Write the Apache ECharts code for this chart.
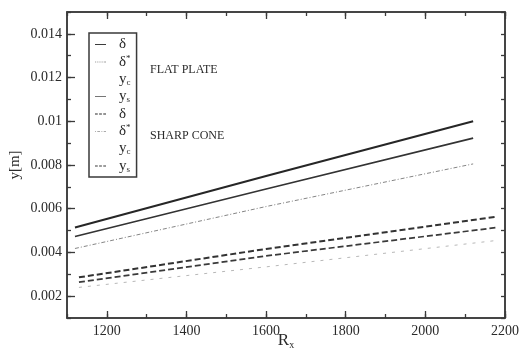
<!DOCTYPE html>
<html>
<head>
<meta charset="utf-8">
<script src="https://cdn.jsdelivr.net/npm/echarts@6/dist/echarts.min.js"></script>
<style>
  html, body { margin: 0; padding: 0; background: #fff; }
  #chart { width: 521px; height: 355px; }
</style>
</head>
<body>
<div id="chart"></div>
<script>
// Boundary-layer heights versus Reynolds number
const flatPlateRe = [1120, 1600, 2120];
const flatPlateDelta = [0.00514, 0.0075, 0.0100];
const flatPlateYs = [0.00473, 0.0069, 0.00923];
const flatPlateDeltaStar = [0.00418, 0.0061, 0.00805];

const sharpConeRe = [1130, 1600, 2180];
const sharpConeDelta = [0.00286, 0.00416, 0.00564];
const sharpConeYs = [0.00264, 0.00384, 0.00514];
const sharpConeDeltaStar = [0.0024, 0.00334, 0.00455];

const xMajorTicks = [1200, 1400, 1600, 1800, 2000, 2200];
const yMajorTicks = [0.002, 0.004, 0.006, 0.008, 0.01, 0.012, 0.014];

const FONT = '"Liberation Serif", "DejaVu Serif", serif';
const INK = '#2a2a2a';

function pairs(xs, ys) { return xs.map((x, i) => [x, ys[i]]); }

// legend labels (rich text with super/subscripts)
const legendText = {
  'fp-delta': '{g|δ}',
  'fp-dstar': '{g|δ}{sup|*}',
  'fp-yc': '{g|y}{sub|c}',
  'fp-ys': '{g|y}{sub|s}',
  'sc-delta': '{g|δ}',
  'sc-dstar': '{g|δ}{sup|*}',
  'sc-yc': '{g|y}{sub|c}',
  'sc-ys': '{g|y}{sub|s}'
};

// short line samples for the legend key
const ICON_SOLID = 'path://M0,0h12v1h-12z';
const ICON_DASH = 'path://M0,0h3v1h-3zM4.5,0h3v1h-3zM9,0h3v1h-3z';
const ICON_DOTS = 'path://M0,0h1v1h-1zM2,0h1v1h-1zM4,0h1v1h-1zM6,0h1v1h-1zM8,0h1v1h-1zM10,0h1v1h-1zM11,0h1v1h-1z';
const ICON_DASHDOT = 'path://M0,0h1v1h-1zM2.5,0h3v1h-3zM7,0h1v1h-1zM9.5,0h2.5v1h-2.5z';

function lineSeries(name, xs, ys, style) {
  return {
    name: name,
    type: 'line',
    xAxisIndex: 0,
    yAxisIndex: 0,
    data: xs ? pairs(xs, ys) : [],
    color: style.color,
    showSymbol: false,
    symbol: 'none',
    silent: true,
    lineStyle: style,
    z: 3
  };
}

const series = [
  lineSeries('fp-delta', flatPlateRe, flatPlateDelta, { color: '#262626', width: 2, type: 'solid' }),
  lineSeries('fp-dstar', flatPlateRe, flatPlateDeltaStar, { color: '#858585', width: 1, type: [4, 2, 1, 2] }),
  lineSeries('fp-yc', null, null, { color: 'rgba(255,255,255,0)', width: 1 }),
  lineSeries('fp-ys', flatPlateRe, flatPlateYs, { color: '#333333', width: 1.7, type: 'solid' }),
  lineSeries('sc-delta', sharpConeRe, sharpConeDelta, { color: '#333333', width: 2, type: [6, 3] }),
  lineSeries('sc-dstar', sharpConeRe, sharpConeDeltaStar, { color: '#b8b8b8', width: 1, type: [3, 6] }),
  lineSeries('sc-yc', null, null, { color: 'rgba(255,255,255,0)', width: 1 }),
  lineSeries('sc-ys', sharpConeRe, sharpConeYs, { color: '#3a3a3a', width: 1.7, type: [6, 3] })
];

const legendIcons = {
  'fp-delta': [ICON_SOLID, '#2a2a2a'],
  'fp-dstar': [ICON_DOTS, '#9a9a9a'],
  'fp-yc': [ICON_SOLID, 'rgba(255,255,255,0)'],
  'fp-ys': [ICON_SOLID, '#6a6a6a'],
  'sc-delta': [ICON_DASH, '#2a2a2a'],
  'sc-dstar': [ICON_DASHDOT, '#aaaaaa'],
  'sc-yc': [ICON_SOLID, 'rgba(255,255,255,0)'],
  'sc-ys': [ICON_DASH, '#3a3a3a']
};

const axisLine = { show: true, lineStyle: { color: '#3a3a3a', width: 1.5 } };
const tickStyle = { color: '#3a3a3a', width: 1.3 };

function xAxisDef(position, major, showLabels) {
  const def = {
    type: 'value',
    gridIndex: 0,
    position: position,
    min: 1100,
    max: 2200,
    interval: 100,
    splitLine: { show: false },
    axisLine: major ? { show: false } : axisLine,
    axisTick: { show: true, inside: true, length: major ? 7 : 4, lineStyle: tickStyle },
    axisLabel: { show: false }
  };
  if (major) def.axisTick.customValues = xMajorTicks;
  if (showLabels) {
    def.axisLabel = {
      show: true, customValues: xMajorTicks, margin: 6,
      fontFamily: FONT, fontSize: 14, color: INK,
      formatter: v => String(v)
    };
    def.name = '{r|R}{s|x}';
    def.nameLocation = 'middle';
    def.nameGap = 14;
    def.nameMoveOverlap = false;
    def.nameTextStyle = {
      verticalAlign: 'top',
      rich: {
        r: { fontFamily: FONT, fontSize: 17, color: INK },
        s: { fontFamily: FONT, fontSize: 10, color: INK, verticalAlign: 'bottom', padding: [8, 0, 0, 0] }
      }
    };
  }
  return def;
}

function yAxisDef(position, major, showLabels) {
  const def = {
    type: 'value',
    gridIndex: 0,
    position: position,
    min: 0.001,
    max: 0.015,
    interval: 0.001,
    splitLine: { show: false },
    axisLine: major ? { show: false } : axisLine,
    axisTick: { show: true, inside: true, length: major ? 8 : 4, lineStyle: tickStyle },
    axisLabel: { show: false }
  };
  if (major) def.axisTick.customValues = yMajorTicks;
  if (showLabels) {
    def.axisLabel = {
      show: true, customValues: yMajorTicks, margin: 5,
      fontFamily: FONT, fontSize: 14, color: INK,
      formatter: v => String(+(+v).toFixed(3))
    };
    def.name = 'y[m]';
    def.nameLocation = 'middle';
    def.nameGap = 44;
    def.nameMoveOverlap = false;
    def.nameTextStyle = { fontFamily: FONT, fontSize: 15, color: INK };
  }
  return def;
}

const chart = echarts.init(document.getElementById('chart'), null, { renderer: 'canvas' });

chart.setOption({
  backgroundColor: '#ffffff',
  animation: false,
  grid: {
    left: 67, right: 16, top: 12, bottom: 37,
    outerBoundsMode: 'none',
    containLabel: false,
    show: true, borderColor: '#3a3a3a', borderWidth: 1.5, backgroundColor: 'transparent'
  },
  xAxis: [
    xAxisDef('bottom', false, true),
    xAxisDef('top', false, false),
    xAxisDef('bottom', true, false),
    xAxisDef('top', true, false)
  ],
  yAxis: [
    yAxisDef('left', false, true),
    yAxisDef('right', false, false),
    yAxisDef('left', true, false)
  ],
  legend: {
    show: true,
    orient: 'vertical',
    left: 89,
    top: 33,
    padding: [4, 6, 3, 6],
    itemGap: 2,
    itemWidth: 11,
    itemHeight: 1.6,
    selectedMode: false,
    borderColor: '#3a3a3a',
    borderWidth: 1.5,
    backgroundColor: '#ffffff',
    data: series.map(s => ({
      name: s.name,
      icon: legendIcons[s.name][0],
      itemStyle: { color: legendIcons[s.name][1], borderWidth: 0 }
    })),
    formatter: name => legendText[name],
    textStyle: {
      padding: [0, 0, 0, 8],
      color: INK,
      rich: {
        g: { fontFamily: FONT, fontSize: 15, color: INK, lineHeight: 16 },
        sup: { fontFamily: FONT, fontSize: 9, color: INK, verticalAlign: 'top' },
        sub: { fontFamily: FONT, fontSize: 9, color: INK, verticalAlign: 'bottom' }
      }
    }
  },
  graphic: [
    {
      type: 'text', left: 150, top: 64, silent: true,
      style: { text: 'FLAT PLATE', fontFamily: FONT, fontSize: 12, fill: INK }
    },
    {
      type: 'text', left: 150, top: 130, silent: true,
      style: { text: 'SHARP CONE', fontFamily: FONT, fontSize: 12, fill: INK }
    }
  ],
  series: series
});
</script>
</body>
</html>
